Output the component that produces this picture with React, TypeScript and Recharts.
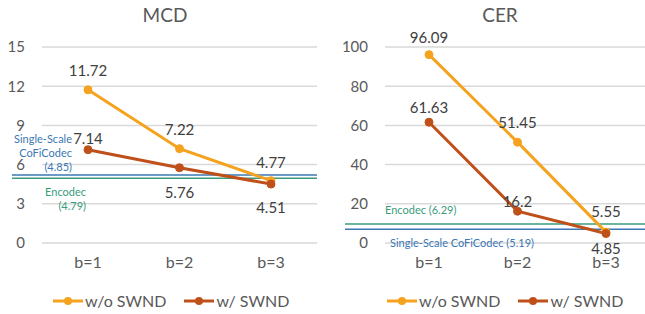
import React from "react";
import { CartesianGrid, LabelList, Legend, Line, LineChart, ReferenceLine, XAxis, YAxis } from "recharts";

const categories = ["b=1", "b=2", "b=3"];
const mcdWithout = [11.72, 7.22, 4.77];
const mcdWith = [7.14, 5.76, 4.51];
const cerWithout = [96.09, 51.45, 5.55];
const cerWith = [61.63, 16.2, 4.85];
const mcdTicks = [0, 3, 6, 9, 12, 15];
const cerTicks = [0, 20, 40, 60, 80, 100];
const seriesNames = ["w/o SWND", "w/ SWND"];

// baselines as drawn in the picture
const mcdRefs = [
  { y: 5.2, color: "#3b78b5", lines: ["Single-Scale", "CoFiCodec", "(4.85)"], dys: [-37, -22.5, -8.5], dx: 30, anchor: "end" },
  { y: 4.95, color: "#3a9c7c", lines: ["Encodec", "(4.79)"], dys: [13.5, 27], dx: 44, anchor: "end" },
];
const cerRefs = [
  { y: 9.7, color: "#3a9c7c", lines: ["Encodec (6.29)"], dys: [-14], dx: 0, anchor: "start" },
  { y: 7.0, color: "#3b78b5", lines: ["Single-Scale CoFiCodec (5.19)"], dys: [13], dx: 5, anchor: "start" },
];

const ORANGE = "#f5a31f";
const BROWN = "#c0501a";
const FONT = "Lato, 'Noto Sans', sans-serif";

type RefDef = { y: number; color: string; lines: string[]; dys: number[]; dx: number; anchor: string };

function makeLabel(values: number[], dys: number[]) {
  return (p: any) => {
    const i = p.index ?? values.indexOf(p.value);
    const x = p.x ?? p.viewBox?.x;
    const y = p.y ?? p.viewBox?.y;
    return (
      <text x={x} y={y + dys[i]} textAnchor="middle" dominantBaseline="central" fill="#404040" fontSize={15} fontFamily={FONT}>
        {p.value}
      </text>
    );
  };
}

function legendContent(props: any) {
  const items = [...(props.payload || [])].sort(
    (a: any, b: any) => seriesNames.indexOf(a.value) - seriesNames.indexOf(b.value)
  );
  return (
    <div style={{ display: "flex", gap: 18, fontFamily: FONT, fontSize: 16, color: "#595959", alignItems: "center" }}>
      {items.map((it: any) => (
        <div key={it.value} style={{ display: "flex", alignItems: "center", gap: 2 }}>
          <svg width={30} height={12}>
            <line x1={0} y1={6} x2={30} y2={6} stroke={it.color} strokeWidth={3} />
            <circle cx={15} cy={6} r={4} fill={it.color} />
          </svg>
          <span>{it.value}</span>
        </div>
      ))}
    </div>
  );
}

function Panel(props: {
  title: string;
  titleX: number;
  left: number;
  width: number;
  yWidth: number;
  marginRight: number;
  pad: number;
  ticks: number[];
  without: number[];
  withS: number[];
  withoutDy: number[];
  withDy: number[];
  refs: RefDef[];
  refExtend: number;
  legendLeft: number;
}) {
  const data = categories.map((c, i) => ({ name: c, without: props.without[i], with: props.withS[i] }));
  const top = props.ticks[props.ticks.length - 1];
  return (
    <div style={{ position: "absolute", left: props.left, top: 0, width: props.width, height: 314 }}>
      <div
        style={{
          position: "absolute",
          left: props.titleX - props.left - 60,
          width: 120,
          top: 3,
          textAlign: "center",
          fontFamily: FONT,
          fontSize: 19,
          color: "#595959",
        }}
      >
        {props.title}
      </div>
      <LineChart width={props.width} height={314} data={data} margin={{ top: 47, right: props.marginRight, bottom: 41, left: 0 }}>
        <CartesianGrid vertical={false} stroke="#d9d9d9" strokeWidth={1.5} />
        <XAxis
          dataKey="name"
          axisLine={false}
          tickLine={false}
          tickSize={0}
          tickMargin={14}
          height={30}
          padding={{ left: props.pad, right: props.pad }}
          tick={{ fill: "#595959", fontSize: 16, fontFamily: FONT }}
        />
        <YAxis
          width={props.yWidth}
          domain={[0, top]}
          ticks={props.ticks}
          axisLine={false}
          tickLine={false}
          tickSize={0}
          tickMargin={17}
          tick={{ fill: "#595959", fontSize: 15, fontFamily: FONT }}
        />
        {props.refs.map((r) => (
          <ReferenceLine
            key={r.lines.join(" ")}
            y={r.y}
            ifOverflow="visible"
            shape={(p: any) => (
              <g>
                <line x1={p.x1 - props.refExtend} y1={p.y1} x2={p.x2} y2={p.y2} stroke={r.color} strokeWidth={1.5} />
                {r.lines.map((t, k) => (
                  <text
                    key={t}
                    x={p.x1 + r.dx}
                    y={p.y1 + r.dys[k]}
                    textAnchor={r.anchor as any}
                    dominantBaseline="central"
                    fill={r.color}
                    fontSize={11}
                    fontFamily={FONT}
                  >
                    {t}
                  </text>
                ))}
              </g>
            )}
          />
        ))}
        <Line
          dataKey="without"
          name={seriesNames[0]}
          stroke={ORANGE}
          strokeWidth={3}
          dot={{ r: 4, fill: ORANGE, stroke: ORANGE, strokeWidth: 1 }}
          isAnimationActive={false}
        >
          <LabelList dataKey="without" content={makeLabel(props.without, props.withoutDy)} />
        </Line>
        <Line
          dataKey="with"
          name={seriesNames[1]}
          stroke={BROWN}
          strokeWidth={3}
          dot={{ r: 4, fill: BROWN, stroke: BROWN, strokeWidth: 1 }}
          isAnimationActive={false}
        >
          <LabelList dataKey="with" content={makeLabel(props.withS, props.withDy)} />
        </Line>
        <Legend
          verticalAlign="middle"
          align="center"
          content={legendContent}
          wrapperStyle={{ left: props.legendLeft, top: 291, width: "auto" }}
        />
      </LineChart>
    </div>
  );
}

export default function App() {
  return (
    <div style={{ position: "fixed", left: 0, top: 0, width: 645, height: 314, overflow: "hidden", background: "#fff" }}>
      <Panel
        title="MCD"
        titleX={165}
        left={0}
        width={320}
        yWidth={42}
        marginRight={3}
        pad={46}
        ticks={mcdTicks}
        without={mcdWithout}
        withS={mcdWith}
        withoutDy={[-20, -20, -19]}
        withDy={[-12, 24, 23]}
        refs={mcdRefs}
        refExtend={30}
        legendLeft={53}
      />
      <Panel
        title="CER"
        titleX={500}
        left={320}
        width={330}
        yWidth={65}
        marginRight={0}
        pad={44}
        ticks={cerTicks}
        without={cerWithout}
        withS={cerWith}
        withoutDy={[-18, -20, -21]}
        withDy={[-15, -10, 15]}
        refs={cerRefs}
        refExtend={40}
        legendLeft={67}
      />
    </div>
  );
}
